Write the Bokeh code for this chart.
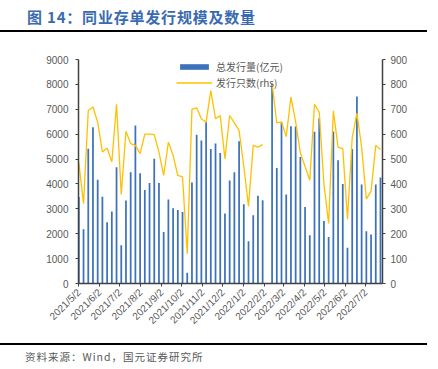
import math
import numpy as np
import pandas as pd
from bokeh.plotting import figure
from bokeh.layouts import column
from bokeh.models import (ColumnDataSource, Range1d, LinearAxis, FixedTicker,
                          Legend, LegendItem, Div)
from bokeh.embed import file_html
from bokeh.resources import INLINE

# ---------------- data ----------------
week_dates = [
    "2021-05-02", "2021-05-09", "2021-05-16", "2021-05-23", "2021-05-30",
    "2021-06-06", "2021-06-13", "2021-06-20", "2021-06-27", "2021-07-04",
    "2021-07-11", "2021-07-18", "2021-07-25", "2021-08-01", "2021-08-08",
    "2021-08-15", "2021-08-22", "2021-08-29", "2021-09-05", "2021-09-12",
    "2021-09-19", "2021-09-26", "2021-10-03", "2021-10-10", "2021-10-17",
    "2021-10-24", "2021-10-31", "2021-11-07", "2021-11-14", "2021-11-21",
    "2021-11-28", "2021-12-05", "2021-12-12", "2021-12-19", "2021-12-26",
    "2022-01-02", "2022-01-09", "2022-01-16", "2022-01-23", "2022-01-30",
    "2022-02-06", "2022-02-13", "2022-02-20", "2022-02-27", "2022-03-06",
    "2022-03-13", "2022-03-20", "2022-03-27", "2022-04-03", "2022-04-10",
    "2022-04-17", "2022-04-24", "2022-05-01", "2022-05-08", "2022-05-15",
    "2022-05-22", "2022-05-29", "2022-06-05", "2022-06-12", "2022-06-19",
    "2022-06-26", "2022-07-03", "2022-07-10", "2022-07-17", "2022-07-24",
]

# 总发行量(亿元)
total_issue = [
    3480, 2180, 5410, 6280, 4170, 3490, 2460, 2890, 4670, 1540,
    3330, 4470, 6350, 4430, 3760, 4040, 5010, 4040, 2070, 3370,
    3020, 2950, 2870, 430, 4060, 5980, 5750, 6480, 5400, 5630,
    5240, 2810, 4140, 4470, 5720, 3180, 1700, 2740, 3530, 3340,
    np.nan, 8020, 4640, 6470, 3580, 6320, 6310, 5080, 3070, 1940,
    6100, 6640, 2510, 1870, 6110, 4950, 4000, 1440, 5400, 7510,
    3980, 2100, 1970, 3980, 4260,
]

# 发行只数 (rhs)
issue_count = [
    485, 321, 695, 709, 648, 528, 544, 488, 720, 358,
    612, 562, 555, 522, 600, 600, 598, 528, 434, 568,
    515, 434, 428, 120, 700, 706, 662, 648, 775, 662,
    675, 501, 675, 645, 615, 470, 310, 555, 548, 558,
    np.nan, 805, 645, 649, 590, 749, 650, 525, 470, 415,
    720, 689, 400, 241, 694, 548, 542, 258, 585, 685,
    548, 340, 370, 555, 538,
]

tick_dates = [
    "2021-05-02", "2021-06-02", "2021-07-02", "2021-08-02", "2021-09-02",
    "2021-10-02", "2021-11-02", "2021-12-02", "2022-01-02", "2022-02-02",
    "2022-03-02", "2022-04-02", "2022-05-02", "2022-06-02", "2022-07-02",
]
tick_labels = [
    "2021/5/2", "2021/6/2", "2021/7/2", "2021/8/2", "2021/9/2",
    "2021/10/2", "2021/11/2", "2021/12/2", "2022/1/2", "2022/2/2",
    "2022/3/2", "2022/4/2", "2022/5/2", "2022/6/2", "2022/7/2",
]
left_ticks = [0, 1000, 2000, 3000, 4000, 5000, 6000, 7000, 8000, 9000]
right_ticks = [0, 100, 200, 300, 400, 500, 600, 700, 800, 900]

title_text = "图 14：同业存单发行规模及数量"
source_text = "资料来源：Wind，国元证券研究所"
bar_name = "总发行量(亿元)"
line_name = "发行只数(rhs)"

# ---------------- styles ----------------
BLUE = "#3C72BC"
GOLD = "#FFC000"
GRAY = "#595959"
AXIS = "#404040"
NUM_FONT = "Liberation Sans"
CJK = "Noto Sans CJK SC"
W = 438

# ---------------- header ----------------
head = Div(
    text=("<div style=\"box-sizing:border-box;width:427px;height:32px;"
          "padding:3px 0 0 27px;line-height:27px;white-space:nowrap;"
          "font-family:'Noto Sans CJK SC';font-weight:bold;font-size:15px;"
          "letter-spacing:0.8px;"
          "color:#3A6BB0;border-bottom:2px solid #000;\">"
          + title_text + "</div>"),
    width=W, height=40, margin=0)

# ---------------- main chart ----------------
t0 = pd.Timestamp(week_dates[0])
x_days = [(pd.Timestamp(d) - t0).days for d in week_dates]
tick_pos = [(pd.Timestamp(d) - t0).days for d in tick_dates]

src = ColumnDataSource(dict(x=x_days, total=total_issue, count=issue_count))

p = figure(width=W, height=300, output_backend="svg", toolbar_location=None,
           x_range=Range1d(-0.5, 451), y_range=Range1d(0, 9000),
           min_border_left=78, min_border_right=56, min_border_top=19,
           min_border_bottom=57, margin=0)
p.outline_line_color = None
p.grid.visible = False
p.background_fill_color = "white"
p.border_fill_color = "white"
p.extra_y_ranges = {"rhs": Range1d(0, 900)}

bars = p.vbar(x="x", top="total", width=2.6, source=src,
              fill_color=BLUE, line_color=None)
line = p.line(x="x", y="count", source=src, y_range_name="rhs",
              line_color=GOLD, line_width=1.3)


def style_axis(ax, standoff):
    ax.minor_tick_line_color = None
    ax.major_tick_out = 3
    ax.major_tick_in = 0
    ax.axis_line_color = AXIS
    ax.axis_line_width = 1.5
    ax.major_tick_line_color = AXIS
    ax.major_label_text_color = GRAY
    ax.major_label_text_font = NUM_FONT
    ax.major_label_text_font_size = "10px"
    ax.major_label_standoff = standoff


xa = p.xaxis[0]
xa.ticker = FixedTicker(ticks=tick_pos)
xa.major_label_overrides = {int(k): v for k, v in zip(tick_pos, tick_labels)}
xa.major_label_orientation = math.pi / 4
style_axis(xa, 4)

ya = p.yaxis[0]
ya.ticker = FixedTicker(ticks=left_ticks)
style_axis(ya, 7)

ra = LinearAxis(y_range_name="rhs", ticker=FixedTicker(ticks=right_ticks))
style_axis(ra, 5)
p.add_layout(ra, "right")

legend = Legend(items=[LegendItem(label=bar_name, renderers=[bars]),
                       LegendItem(label=line_name, renderers=[line])],
                location=(98, 193), orientation="vertical",
                glyph_width=36, glyph_height=7, label_height=16,
                label_standoff=4, spacing=0, padding=0, margin=0,
                label_text_font=CJK, label_text_font_size="10px",
                label_text_color=GRAY, background_fill_alpha=0,
                border_line_color=None)
p.add_layout(legend, "center")

# ---------------- footer ----------------
foot = Div(
    text=("<div style=\"box-sizing:border-box;width:427px;height:29px;"
          "margin-top:3px;border-top:2px solid #000;padding-left:25px;"
          "line-height:24px;white-space:nowrap;letter-spacing:1px;"
          "font-family:'Noto Sans CJK SC';font-size:10.5px;color:#595959;\">"
          + source_text + "</div>"),
    width=W, height=29, margin=0)

layout = column(head, p, foot, spacing=0, margin=0)
open("out.html", "w").write(file_html(layout, INLINE))
